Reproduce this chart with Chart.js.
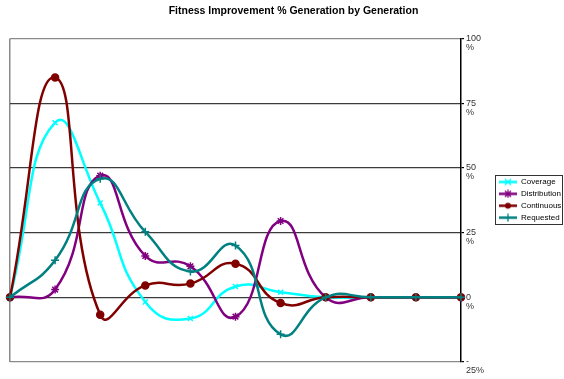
<!DOCTYPE html>
<html>
<head>
<meta charset="utf-8">
<script src="https://cdn.jsdelivr.net/npm/chart.js@4/dist/chart.umd.min.js"></script>
<style>
  html, body { margin: 0; padding: 0; background: #fff; }
  #wrap { width: 564px; height: 379px; }
</style>
</head>
<body>
<div id="wrap"><canvas id="c" width="564" height="379"></canvas></div>
<script>
// Generations along the x axis
const generations = ['1', '2', '3', '4', '5', '6', '7', '8', '9', '10', '11'];

// Fitness improvement (%) per generation for each objective
const coverage     = [0, 67.5, 36.5, -1.8, -8.2, 4.2, 2.0, 0, 0, 0, 0];
const distribution = [0, 3.0, 47.0, 16.0, 12.0, -7.5, 29.5, 0, 0, 0, 0];
const continuous   = [0, 85.0, -6.7, 4.6, 5.3, 13.0, -2.2, 0, 0, 0, 0];
const requested    = [0, 14.3, 45.8, 25.3, 10.0, 20.0, -14.3, 0, 0, 0, 0];

// Value axis ticks and their two-line labels
const tickValues = [100, 75, 50, 25, 0, -25];
const tickLabels = [['100', '%'], ['75', '%'], ['50', '%'], ['25', '%'], ['0', '%'], ['-', '25%']];

const FONT = '"Liberation Sans", Arial, sans-serif';
const SWATCH_W = 18;

// Small legend swatch: a line segment with the series marker in the middle
function swatch(color, style) {
  const cv = document.createElement('canvas');
  cv.width = SWATCH_W; cv.height = 9;
  const ctx = cv.getContext('2d');
  const cx = SWATCH_W / 2, cy = 4.5, r = 3;
  ctx.strokeStyle = color;
  ctx.fillStyle = color;
  ctx.lineWidth = 2.5;
  ctx.beginPath(); ctx.moveTo(0, cy); ctx.lineTo(SWATCH_W, cy); ctx.stroke();
  ctx.lineWidth = 1.3;
  ctx.beginPath();
  if (style === 'circle') {
    ctx.arc(cx, cy, r, 0, Math.PI * 2); ctx.fill();
  } else {
    if (style !== 'cross') {
      ctx.moveTo(cx - r, cy - r); ctx.lineTo(cx + r, cy + r);
      ctx.moveTo(cx - r, cy + r); ctx.lineTo(cx + r, cy - r);
    }
    if (style !== 'crossRot') {
      ctx.moveTo(cx, cy - r - 1); ctx.lineTo(cx, cy + r + 1);
    }
    ctx.stroke();
  }
  return cv;
}

function series(label, data, color, style, radius, order) {
  return {
    label, data, order,
    borderColor: color,
    backgroundColor: color,
    borderWidth: 2.5,
    tension: 0.5,
    fill: false,
    pointStyle: style,
    pointRadius: radius,
    pointBorderWidth: 1.5,
    pointBorderColor: color,
    pointBackgroundColor: color,
    legendSwatch: swatch(color, style)
  };
}

const datasets = [
  series('Coverage', coverage, '#00FFFF', 'crossRot', 3.5, 4),
  series('Distribution', distribution, '#800080', 'star', 4, 3),
  series('Continuous', continuous, '#800000', 'circle', 3.5, 2),
  series('Requested', requested, '#008080', 'cross', 4, 1)
];

// Frame around the legend entries
const legendFrame = {
  id: 'legendFrame',
  afterDraw(chart) {
    const lg = chart.legend;
    if (!lg || !lg.legendHitBoxes.length) return;
    const boxes = lg.legendHitBoxes;
    const top = boxes[0].top - 3;
    const last = boxes[boxes.length - 1];
    const bottom = last.top + last.height + 2;
    const ctx = chart.ctx;
    ctx.save();
    ctx.strokeStyle = '#333';
    ctx.lineWidth = 1;
    ctx.strokeRect(Math.round(lg.left) + 0.5, Math.round(top) + 0.5,
      Math.round(lg.right - lg.left) - 2, Math.round(bottom - top));
    ctx.restore();
  }
};

// Title sits centred over the plot plus the axis/legend strip
const titleShift = {
  id: 'titleShift',
  afterLayout(chart) {
    chart.titleBlock.left = chart.chartArea.left + 13;
  }
};

new Chart(document.getElementById('c'), {
  type: 'line',
  data: { labels: generations, datasets },
  plugins: [legendFrame, titleShift],
  options: {
    responsive: false,
    animation: false,
    layout: { padding: { left: 10, right: 0, top: 0, bottom: 17 } },
    plugins: {
      title: {
        display: true,
        text: 'Fitness Improvement % Generation by Generation',
        color: '#000',
        font: { family: FONT, size: 10.5, weight: 'bold', lineHeight: 1.2 },
        padding: { top: 5, bottom: 21 }
      },
      legend: {
        position: 'right',
        maxWidth: 69,
        title: {
          display: true,
          text: '',
          font: { family: FONT, size: 8, lineHeight: 1.2 },
          padding: { top: 28, bottom: 0 }
        },
        labels: {
          usePointStyle: true,
          pointStyleWidth: SWATCH_W,
          boxHeight: 8,
          padding: 3.9,
          color: '#000',
          font: { family: FONT, size: 8, lineHeight: 1.2 },
          sort: (a, b) => a.datasetIndex - b.datasetIndex,
          generateLabels(chart) {
            return chart.data.datasets.map((ds, i) => ({
              text: ds.label,
              datasetIndex: i,
              pointStyle: ds.legendSwatch,
              fillStyle: ds.borderColor,
              strokeStyle: ds.borderColor,
              lineWidth: 0,
              fontColor: '#000',
              hidden: false
            }));
          }
        }
      },
      tooltip: { enabled: false }
    },
    scales: {
      x: {
        type: 'category',
        offset: false,
        border: { display: false },
        ticks: { display: false },
        grid: {
          drawTicks: false,
          lineWidth: 1.5,
          color: ctx => ctx.index === 0 ? '#8a8a8a' : 'rgba(0,0,0,0)'
        }
      },
      y: {
        position: 'right',
        min: -25,
        max: 100,
        afterBuildTicks: scale => { scale.ticks = tickValues.map(v => ({ value: v })); },
        afterFit: scale => { scale.width = 34; },
        border: { display: true, color: '#000', width: 1.5 },
        grid: {
          drawTicks: true,
          tickLength: 3,
          tickColor: '#000',
          lineWidth: 1.2,
          color: ctx => (ctx.tick && (ctx.tick.value === 100 || ctx.tick.value === -25)) ? '#8a8a8a' : '#3c3c3c'
        },
        ticks: {
          padding: 2,
          labelOffset: 4.5,
          color: '#333',
          font: { family: FONT, size: 9, lineHeight: 1.0 },
          callback: (value) => {
            const i = tickValues.indexOf(value);
            return i >= 0 ? tickLabels[i] : '';
          }
        }
      }
    }
  }
});
</script>
</body>
</html>
